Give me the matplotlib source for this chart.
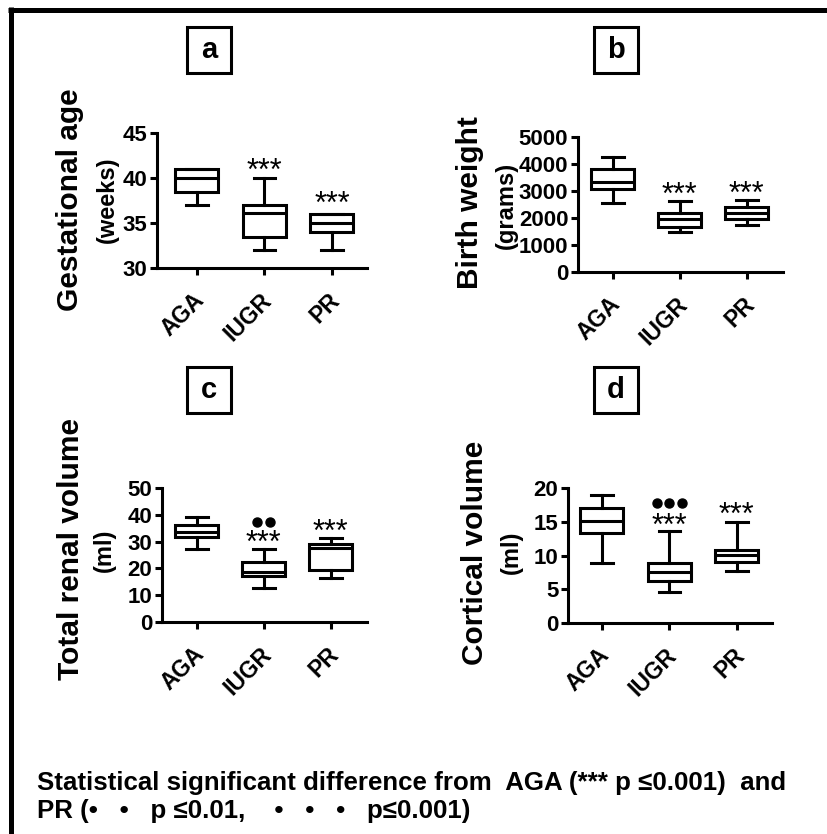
import numpy as np
import matplotlib
matplotlib.use('Agg')
import matplotlib.pyplot as plt
import matplotlib.transforms as mtransforms
from matplotlib.patches import Rectangle
from matplotlib.lines import Line2D

plt.rcParams['font.family'] = ['Liberation Sans', 'DejaVu Sans']
plt.rcParams['font.weight'] = 'bold'

# data
groups = ['AGA', 'IUGR', 'PR']

ga_lo = [37, 32, 32]
ga_q1 = [38.5, 33.4, 34]
ga_med = [40, 36.1, 35]
ga_q3 = [41, 37, 36]
ga_hi = [41, 40, 36]

bw_lo = [2550, 1480, 1730]
bw_q1 = [3080, 1680, 1980]
bw_med = [3330, 1980, 2200]
bw_q3 = [3800, 2180, 2400]
bw_hi = [4250, 2630, 2670]

trv_lo = [27.2, 12.7, 16.4]
trv_q1 = [31.7, 17.2, 19.4]
trv_med = [33.6, 18.5, 27.6]
trv_q3 = [36.2, 22.4, 29.1]
trv_hi = [39.2, 27.2, 31.3]

cv_lo = [8.9, 4.6, 7.7]
cv_q1 = [13.3, 6.2, 9.1]
cv_med = [15.1, 7.55, 10.1]
cv_q3 = [17, 8.9, 10.8]
cv_hi = [19, 13.6, 15]

# significance marks: (group index, y value) for stars vs AGA, and (group index, n dots, y) vs PR
ga_stars = [(1, 41.7), (2, 38.1)]
bw_stars = [(1, 3150), (2, 3220)]
trv_stars = [(1, 32.5), (2, 36.9)]
cv_stars = [(1, 15.7), (2, 17.2)]
ga_dots = []
bw_dots = []
trv_dots = [(1, 2, 37.3)]
cv_dots = [(1, 3, 17.8)]

W, H = 828, 834
fig = plt.figure(figsize=(W / 100, H / 100), dpi=100)


def px_axes(l, r, t, b):
    return fig.add_axes([l / W, 1 - b / H, (r - l) / W, (b - t) / H])


def make_stats(lo, q1, med, q3, hi):
    return [dict(whislo=a, q1=b, med=c, q3=d, whishi=e, fliers=[])
            for a, b, c, d, e in zip(lo, q1, med, q3, hi)]


panels = [
    dict(box=(157, 367, 133, 268), xlim=(-0.59, 2.52), ylim=(30, 45), ticks=[30, 35, 40, 45],
         stats=make_stats(ga_lo, ga_q1, ga_med, ga_q3, ga_hi), stars=ga_stars, dots=ga_dots,
         title='a', tpos=(209, 50), lab='Gestational age', unit='(weeks)',
         labpos=(70, 200), unitpos=(107, 200)),
    dict(box=(578, 783, 137, 272), xlim=(-0.52, 2.54), ylim=(0, 5000), ticks=[0, 1000, 2000, 3000, 4000, 5000],
         stats=make_stats(bw_lo, bw_q1, bw_med, bw_q3, bw_hi), stars=bw_stars, dots=bw_dots,
         title='b', tpos=(616, 50), lab='Birth weight', unit='(grams)',
         labpos=(470, 203), unitpos=(506, 205)),
    dict(box=(162, 367, 488, 622), xlim=(-0.52, 2.54), ylim=(0, 50), ticks=[0, 10, 20, 30, 40, 50],
         stats=make_stats(trv_lo, trv_q1, trv_med, trv_q3, trv_hi), stars=trv_stars, dots=trv_dots,
         title='c', tpos=(209, 390), lab='Total renal volume', unit='(ml)',
         labpos=(71, 549), unitpos=(104, 550)),
    dict(box=(568, 772, 488, 623), xlim=(-0.5, 2.52), ylim=(0, 20), ticks=[0, 5, 10, 15, 20],
         stats=make_stats(cv_lo, cv_q1, cv_med, cv_q3, cv_hi), stars=cv_stars, dots=cv_dots,
         title='d', tpos=(616, 390), lab='Cortical volume', unit='(ml)',
         labpos=(475, 553), unitpos=(511, 552)),
]

lw = 2.2
star_fs = 22
shift = mtransforms.ScaledTranslation(-4 / 100, -8 / 100, fig.dpi_scale_trans)
for p in panels:
    ax = px_axes(*p['box'])
    line = dict(color='black', linewidth=lw)
    ax.bxp(p['stats'], positions=range(len(groups)), widths=0.64, patch_artist=True,
           boxprops=dict(facecolor='white', edgecolor='black', linewidth=lw),
           medianprops=line, whiskerprops=line, capprops=line, showfliers=False)
    ax.set_xlim(*p['xlim'])
    ax.set_ylim(*p['ylim'])
    ax.set_yticks(p['ticks'])
    ax.set_xticks(range(len(groups)))
    ax.set_xticklabels(groups, rotation=45, ha='right', va='top', rotation_mode='anchor')
    for s in ['top', 'right']:
        ax.spines[s].set_visible(False)
    for s in ['left', 'bottom']:
        ax.spines[s].set_linewidth(lw)
    ax.tick_params(direction='out', length=5, width=lw, pad=2)
    ax.tick_params(axis='y', labelsize=16)
    ax.tick_params(axis='x', labelsize=16.5, pad=4)
    for lbl in ax.get_xticklabels():
        lbl.set_transform(lbl.get_transform() + shift)
    for lbl in ax.get_xticklabels() + ax.get_yticklabels():
        lbl.set_fontweight('bold')
    # *** centred on the given value (asterisks sit high in the em box)
    for gi, yv in p['stars']:
        ax.annotate('***', (gi, yv), xytext=(0, -0.57 * star_fs), textcoords='offset points',
                    ha='center', va='baseline', fontsize=star_fs, fontweight='normal')
    for gi, n, yv in p['dots']:
        for k in range(n):
            off = mtransforms.offset_copy(ax.transData, fig=fig, x=(k - (n - 1) / 2) * 9.2, y=0, units='points')
            ax.plot([gi], [yv], 'o', color='black', markersize=6.5, transform=off, clip_on=False)
    ax.patch.set_visible(False)

    # panel letter in a square box
    cx, cy = p['tpos']
    bw_px, bh_px = 44, 46
    fig.patches.append(Rectangle(((cx - bw_px / 2) / W, 1 - (cy + bh_px / 2) / H), bw_px / W, bh_px / H,
                                 transform=fig.transFigure, fill=False, edgecolor='black', linewidth=lw))
    fig.text(cx / W, 1 - cy / H, p['title'], ha='center', va='center', fontsize=21, fontweight='bold')

    # y labels
    fig.text(p['labpos'][0] / W, 1 - p['labpos'][1] / H, p['lab'], rotation=90,
             ha='center', va='center', fontsize=21.5, fontweight='bold')
    fig.text(p['unitpos'][0] / W, 1 - p['unitpos'][1] / H, p['unit'], rotation=90,
             ha='center', va='center', fontsize=17, fontweight='bold')

# footer
foot = ['Statistical significant difference from  AGA (*** p \u22640.001)  and',
        'PR (\u2022   \u2022   p \u22640.01,    \u2022   \u2022   \u2022   p\u22640.001)']
for i, t in enumerate(foot):
    fig.text(37 / W, 1 - (783 + 28 * i) / H, t, ha='left', va='center', fontsize=18.6,
             fontweight='bold')

# frame lines at top and left
fig.add_artist(Line2D([8 / W, 1], [1 - 9.5 / H, 1 - 9.5 / H], transform=fig.transFigure,
                      color='black', linewidth=3.6, solid_capstyle='butt'))
fig.add_artist(Line2D([10.5 / W, 10.5 / W], [0, 1 - 7 / H], transform=fig.transFigure,
                      color='black', linewidth=3.6, solid_capstyle='butt'))

fig.savefig('out.png', dpi=100, facecolor='white')
